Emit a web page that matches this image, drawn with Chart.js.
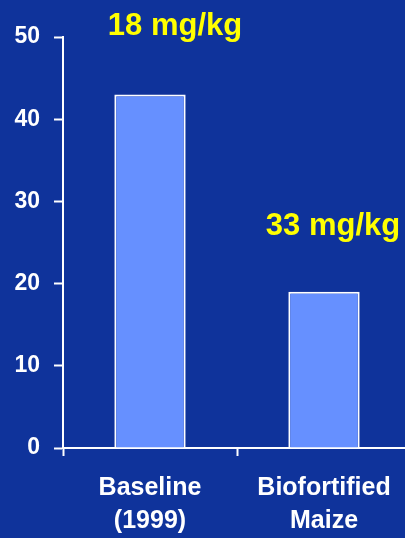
<!DOCTYPE html>
<html>
<head>
<meta charset="utf-8">
<script src="https://cdn.jsdelivr.net/npm/chart.js@4/dist/chart.umd.min.js"></script>
<style>
  html, body { margin: 0; padding: 0; width: 405px; height: 538px; overflow: hidden; background: #0f339b; }
  #wrap { position: absolute; left: 0; top: 0; width: 411px; height: 538px; }
</style>
</head>
<body>
<div id="wrap"><canvas id="c" width="411" height="538"></canvas></div>
<script>
// Categories (multi-line labels) and bar values
const categories = [['Baseline', '(1999)'], ['Biofortified', 'Maize']];
const values = [43, 19];
// Zinc content noted above each bar
const barNotes = ['18 mg/kg', '33 mg/kg'];
// Value axis range
const yMin = 0, yMax = 50, yStep = 10;

const FONT = '"Liberation Sans", Arial, Helvetica, sans-serif';

// Draws the yellow notes above each bar
const notesPlugin = {
  id: 'barNotes',
  afterDatasetsDraw(chart, args, opts) {
    const ctx = chart.ctx;
    const meta = chart.getDatasetMeta(0);
    ctx.save();
    ctx.font = 'bold 31px ' + FONT;
    ctx.fillStyle = '#ffff00';
    ctx.textAlign = 'center';
    ctx.textBaseline = 'alphabetic';
    meta.data.forEach((bar, i) => {
      const off = opts.offsets[i];
      ctx.fillText(barNotes[i], bar.x + off[0], bar.y + off[1]);
    });
    ctx.restore();
  }
};

new Chart(document.getElementById('c'), {
  type: 'bar',
  data: {
    labels: categories,
    datasets: [{
      data: values,
      backgroundColor: '#6690ff',
      borderColor: '#ffffff',
      borderWidth: 2,
      barPercentage: 0.41,
      categoryPercentage: 1.0
    }]
  },
  options: {
    responsive: false,
    devicePixelRatio: 1,
    animation: false,
    layout: { padding: { top: 37, left: 0, right: 0, bottom: 0 } },
    plugins: {
      legend: { display: false },
      tooltip: { enabled: false },
      barNotes: { offsets: [[25, -60], [9, -56.5]] }
    },
    scales: {
      x: {
        grid: {
          display: true,
          drawOnChartArea: false,
          drawTicks: true,
          tickLength: 8,
          tickWidth: 2,
          color: '#ffffff',
          offset: true
        },
        border: { display: true, color: '#ffffff', width: 2 },
        ticks: {
          color: '#ffffff',
          font: { family: FONT, size: 25, weight: 'bold', lineHeight: 1.3 },
          padding: 16,
          maxRotation: 0,
          autoSkip: false
        },
        afterFit(scale) { scale.height = 90; }
      },
      y: {
        min: yMin,
        max: yMax,
        grid: {
          display: true,
          drawOnChartArea: false,
          drawTicks: true,
          tickLength: 9,
          tickWidth: 2,
          color: '#ffffff'
        },
        border: { display: true, color: '#ffffff', width: 2 },
        ticks: {
          stepSize: yStep,
          color: '#ffffff',
          font: { family: FONT, size: 23, weight: 'bold' },
          padding: 14
        },
        afterFit(scale) { scale.width = 63; }
      }
    }
  },
  plugins: [notesPlugin]
});
</script>
</body>
</html>
